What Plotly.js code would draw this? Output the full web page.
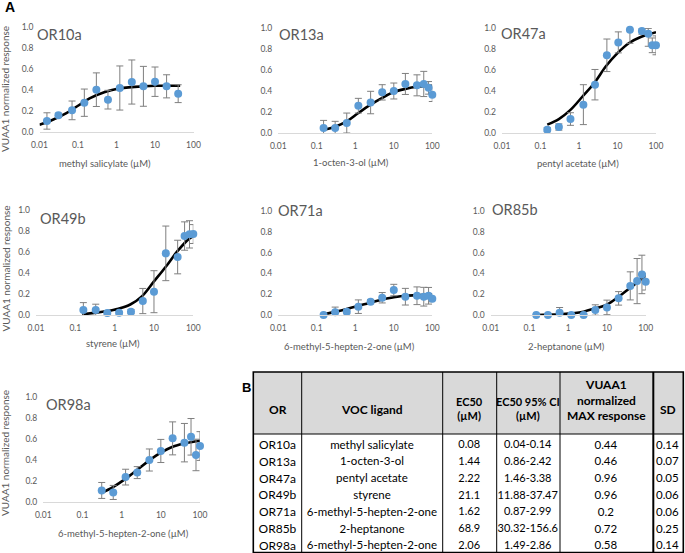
<!DOCTYPE html>
<html><head><meta charset="utf-8">
<script src="https://cdn.plot.ly/plotly-3.0.1.min.js"></script>
<style>html,body{margin:0;padding:0;background:#fff}#chart{width:685px;height:553px}</style>
</head><body><div id="chart"></div>
<script>
// ---------- DATA ----------
const receptors = ['OR10a','OR13a','OR47a','OR49b','OR71a','OR85b','OR98a'];
const ligandTitles = ['methyl salicylate (µM)','1-octen-3-ol (µM)','pentyl acetate (µM)','styrene (µM)','6-methyl-5-hepten-2-one (µM)','2-heptanone (µM)','6-methyl-5-hepten-2-one (µM)'];
const yAxisTitle = 'VUAA1 normalized response';
const xTickVals = [0.01, 0.1, 1, 10, 100];
const xTickText = ['0.01', '0.1', '1', '10', '100'];
const yTickVals = [0, 0.2, 0.4, 0.6, 0.8, 1.0];
const yTickText = ['0.0', '0.2', '0.4', '0.6', '0.8', '1.0'];

const conc_OR10a = [0.0156, 0.031, 0.07, 0.146, 0.3, 0.6, 1.22, 2.5, 5, 10, 20, 40];
const resp_OR10a = [0.105, 0.159, 0.206, 0.279, 0.403, 0.308, 0.419, 0.476, 0.435, 0.479, 0.435, 0.365];
const sd_OR10a   = [0.078, 0.02, 0.089, 0.13, 0.16, 0.089, 0.21, 0.21, 0.19, 0.14, 0.11, 0.085];
const fitX_OR10a = [0.01, 0.02, 0.05, 0.1, 0.2, 0.5, 1, 3, 10, 25, 45];
const fitY_OR10a = [0.07, 0.11, 0.18, 0.25, 0.32, 0.38, 0.41, 0.43, 0.44, 0.44, 0.44];

const conc_OR13a = [0.15, 0.3, 0.6, 1.2, 2.5, 5, 10, 20, 40, 60, 80, 100];
const resp_OR13a = [0.048, 0.048, 0.095, 0.26, 0.29, 0.387, 0.40, 0.467, 0.454, 0.467, 0.43, 0.365];
const sd_OR13a   = [0.072, 0.063, 0.095, 0.07, 0.107, 0.073, 0.076, 0.1, 0.1, 0.12, 0.06, 0.065];
const fitX_OR13a = [0.15, 0.3, 0.6, 1.2, 2.5, 5, 10, 20, 40, 100];
const fitY_OR13a = [0.03, 0.06, 0.11, 0.19, 0.27, 0.335, 0.39, 0.42, 0.44, 0.45];

const conc_OR47a = [0.15, 0.3, 0.6, 1.3, 2.6, 5.3, 10.5, 21, 43, 63, 80, 100];
const resp_OR47a = [0.032, 0.057, 0.133, 0.27, 0.46, 0.74, 0.863, 0.984, 0.971, 0.946, 0.835, 0.835];
const sdUp_OR47a   = [0.02, 0.03, 0.06, 0.19, 0.145, 0.155, 0.1, 0.0, 0.02, 0.05, 0.07, 0.09];
const sdDown_OR47a = [0.02, 0.03, 0.06, 0.19, 0.145, 0.155, 0.1, 0.13, 0.03, 0.12, 0.07, 0.09];
const fitX_OR47a = [0.15, 0.3, 0.6, 1.25, 2.5, 5, 10, 20, 40, 100];
const fitY_OR47a = [0.08, 0.133, 0.22, 0.35, 0.476, 0.635, 0.76, 0.857, 0.914, 0.96];

const conc_OR49b = [0.16, 0.33, 0.65, 1.3, 2.6, 5.2, 10, 20, 40, 60, 80, 100];
const resp_OR49b = [0.048, 0.048, 0.019, 0.022, 0.032, 0.133, 0.222, 0.587, 0.552, 0.752, 0.768, 0.771];
const sd_OR49b   = [0.07, 0.055, 0.01, 0.01, 0.02, 0.12, 0.2, 0.26, 0.16, 0.135, 0.13, 0.09];
const fitX_OR49b = [0.15, 0.3, 0.6, 1.25, 2.5, 5, 10, 20, 40, 80, 100];
const fitY_OR49b = [0.006, 0.02, 0.035, 0.06, 0.1, 0.18, 0.32, 0.46, 0.61, 0.73, 0.75];

const conc_OR71a = [0.15, 0.3, 0.6, 1.2, 2.5, 5, 10, 20, 40, 60, 80, 100];
const resp_OR71a = [0.0, 0.026, 0.032, 0.08, 0.128, 0.166, 0.24, 0.176, 0.185, 0.176, 0.185, 0.157];
const sd_OR71a   = [0.0, 0.05, 0.02, 0.065, 0.02, 0.05, 0.055, 0.08, 0.085, 0.09, 0.08, 0.03];
const fitX_OR71a = [0.15, 0.3, 0.6, 1.25, 2.5, 5, 10, 20, 40, 100];
const fitY_OR71a = [0.006, 0.03, 0.058, 0.09, 0.118, 0.15, 0.17, 0.185, 0.19, 0.198];

const conc_OR85b = [0.15, 0.3, 0.6, 1.2, 2.5, 5, 10, 20, 40, 60, 80, 100];
const resp_OR85b = [0, 0, 0.022, 0, 0, 0.048, 0.073, 0.16, 0.28, 0.326, 0.39, 0.32];
const sd_OR85b   = [0, 0, 0.05, 0, 0, 0.05, 0.07, 0.065, 0.135, 0.217, 0.185, 0.08];
const fitX_OR85b = [0.15, 0.6, 1.25, 2.5, 5, 10, 20, 40, 80, 100];
const fitY_OR85b = [0, 0.006, 0.016, 0.032, 0.064, 0.1, 0.176, 0.262, 0.35, 0.383];

const conc_OR98a = [0.31, 0.61, 1.26, 2.5, 5.1, 10, 20, 40, 59, 79, 100];
const resp_OR98a = [0.11, 0.091, 0.237, 0.28, 0.40, 0.486, 0.606, 0.565, 0.621, 0.448, 0.533];
const sd_OR98a   = [0.076, 0.067, 0.075, 0.057, 0.105, 0.11, 0.157, 0.183, 0.174, 0.15, 0.137];
const fitX_OR98a = [0.3, 0.6, 1.25, 2.5, 5, 10, 20, 40, 100];
const fitY_OR98a = [0.085, 0.142, 0.22, 0.306, 0.394, 0.47, 0.527, 0.558, 0.584];

// table
const tableHeader = ['OR', 'VOC ligand', 'EC50<br>(µM)', 'EC50 95% CI<br>(µM)', 'VUAA1<br>normalized<br>MAX response', 'SD'];
const tableOR = ['OR10a','OR13a','OR47a','OR49b','OR71a','OR85b','OR98a'];
const tableLigand = ['methyl salicylate','1-octen-3-ol','pentyl acetate','styrene','6-methyl-5-hepten-2-one','2-heptanone','6-methyl-5-hepten-2-one'];
const tableEC50 = ['0.08','1.44','2.22','21.1','1.62','68.9','2.06'];
const tableCI = ['0.04-0.14','0.86-2.42','1.46-3.38','11.88-37.47','0.87-2.99','30.32-156.6','1.49-2.86'];
const tableMax = ['0.44','0.46','0.96','0.96','0.2','0.72','0.58'];
const tableSD = ['0.14','0.07','0.05','0.06','0.06','0.25','0.14'];

// ---------- LAYOUT (pixel geometry) ----------
const W = 685, H = 553;
const FONT = 'Lato, "Open Sans", sans-serif';
const GRAY = '#595959';
const series = [
  {conc: conc_OR10a, resp: resp_OR10a, up: sd_OR10a, down: sd_OR10a, fx: fitX_OR10a, fy: fitY_OR10a},
  {conc: conc_OR13a, resp: resp_OR13a, up: sd_OR13a, down: sd_OR13a, fx: fitX_OR13a, fy: fitY_OR13a},
  {conc: conc_OR47a, resp: resp_OR47a, up: sdUp_OR47a, down: sdDown_OR47a, fx: fitX_OR47a, fy: fitY_OR47a},
  {conc: conc_OR49b, resp: resp_OR49b, up: sd_OR49b, down: sd_OR49b, fx: fitX_OR49b, fy: fitY_OR49b},
  {conc: conc_OR71a, resp: resp_OR71a, up: sd_OR71a, down: sd_OR71a, fx: fitX_OR71a, fy: fitY_OR71a},
  {conc: conc_OR85b, resp: resp_OR85b, up: sd_OR85b, down: sd_OR85b, fx: fitX_OR85b, fy: fitY_OR85b},
  {conc: conc_OR98a, resp: resp_OR98a, up: sd_OR98a, down: sd_OR98a, fx: fitX_OR98a, fy: fitY_OR98a}
];
const panels = [
  {x0: 39.5, x1: 193.5, yb: 132, yt: 27, tt: [35, 34.5], xt: [105, 163], yl: [5, 89]},
  {x0: 278.3, x1: 432.3, yb: 133, yt: 28, tt: [276.7, 34.7], xt: [351, 162.3]},
  {x0: 502, x1: 656, yb: 133, yt: 28, tt: [499.3, 34], xt: [578.3, 163]},
  {x0: 36, x1: 193.3, yb: 315, yt: 210, tt: [37.7, 219], xt: [113.3, 343.3], yl: [5, 268.5]},
  {x0: 278.3, x1: 432.3, yb: 315, yt: 211, tt: [276, 210], xt: [349, 346.7]},
  {x0: 490.7, x1: 645.7, yb: 315, yt: 211, tt: [490, 209], xt: [566.7, 346.7]},
  {x0: 43.3, x1: 200, yb: 502, yt: 397, tt: [44.3, 404.7], xt: [123.3, 533.3], yl: [5, 453]}
];
const px = v => v / W, py = v => 1 - v / H;

const traces = [];
const layout = {
  width: W, height: H, margin: {l: 0, r: 0, t: 0, b: 0},
  paper_bgcolor: '#fff', plot_bgcolor: 'rgba(0,0,0,0)',
  showlegend: false, font: {family: FONT, color: GRAY},
  annotations: [], shapes: []
};

panels.forEach((p, i) => {
  const s = i === 0 ? '' : String(i + 1);
  const d = series[i];
  traces.push({
    type: 'scatter', mode: 'lines', x: d.fx, y: d.fy,
    xaxis: 'x' + s, yaxis: 'y' + s, hoverinfo: 'skip',
    line: {color: '#000', width: 2.6, shape: 'spline', smoothing: 1}
  });
  traces.push({
    type: 'scatter', mode: 'markers', x: d.conc, y: d.resp,
    xaxis: 'x' + s, yaxis: 'y' + s, cliponaxis: false, hoverinfo: 'skip',
    marker: {color: '#5b9bd5', size: 8},
    error_y: {type: 'data', symmetric: false, array: d.up, arrayminus: d.down, visible: true,
              color: '#7f7f7f', thickness: 1, width: 3.5}
  });
  layout['xaxis' + s] = {
    domain: [px(p.x0), px(p.x1)], anchor: 'y' + s, type: 'log', range: [-2, 2],
    tickmode: 'array', tickvals: xTickVals, ticktext: xTickText,
    showline: true, linecolor: '#d9d9d9', linewidth: 1, showgrid: false, zeroline: false,
    ticks: '', ticklabelstandoff: 5, tickfont: {family: FONT, size: 8.5, color: GRAY}, fixedrange: true
  };
  layout['yaxis' + s] = {
    domain: [py(p.yb), py(p.yt)], anchor: 'x' + s, range: [0, 1],
    tickmode: 'array', tickvals: yTickVals, ticktext: yTickText,
    showline: false, showgrid: false, zeroline: false,
    ticks: '', ticklabelstandoff: 5, tickfont: {family: FONT, size: 8.5, color: GRAY}, fixedrange: true
  };
  layout.annotations.push({
    text: receptors[i], xref: 'paper', yref: 'paper', x: px(p.tt[0]), y: py(p.tt[1]),
    xanchor: 'left', yanchor: 'middle', showarrow: false,
    font: {family: FONT, size: 14.5, color: GRAY}
  });
  layout.annotations.push({
    text: ligandTitles[i], xref: 'paper', yref: 'paper', x: px(p.xt[0]), y: py(p.xt[1]),
    xanchor: 'center', yanchor: 'middle', showarrow: false,
    font: {family: FONT, size: 9.5, color: GRAY}
  });
  if (p.yl) {
    layout.annotations.push({
      text: yAxisTitle, xref: 'paper', yref: 'paper', x: px(p.yl[0]), y: py(p.yl[1]),
      xanchor: 'center', yanchor: 'middle', textangle: -90, showarrow: false,
      font: {family: FONT, size: 10, color: GRAY}
    });
  }
});

layout.annotations.push({text: '<b>A</b>', xref: 'paper', yref: 'paper', x: px(3), y: py(7.5),
  xanchor: 'left', yanchor: 'middle', showarrow: false, font: {family: 'Liberation Sans, Arial', size: 14, color: '#000'}});
layout.annotations.push({text: '<b>B</b>', xref: 'paper', yref: 'paper', x: px(239.5), y: py(388),
  xanchor: 'left', yanchor: 'middle', showarrow: false, font: {family: 'Liberation Sans, Arial', size: 13, color: '#000'}});

// table
const tb = {x0: 253.3, x1: 683.3, y0: 372, y1: 552.5, hh: 60, hline: 62, rh: 16.8};
const colW = [48.4, 141, 54, 63.3, 93.3, 30];
const headerTextY = [409, 409, 408.5, 408.5, 399.5, 409];
const headerSize = [12, 12, 11, 11, 12, 12];
const bodySize = [12, 11.5, 11, 11, 11.5, 11.5];
const blankHeader = tableHeader.map(() => '');
traces.push({
  type: 'table',
  domain: {x: [px(tb.x0), px(tb.x1)], y: [0, py(tb.y0)]},
  columnwidth: colW,
  header: {values: blankHeader, align: 'center', height: tb.hh,
           fill: {color: '#d9d9d9'}, line: {width: 0, color: 'rgba(0,0,0,0)'},
           font: {family: FONT, size: 11, color: '#000'}},
  cells: {values: [tableOR, tableLigand, tableEC50, tableCI, tableMax, tableSD], align: 'center', height: tb.rh,
          fill: {color: 'rgba(0,0,0,0)'}, line: {width: 0, color: 'rgba(0,0,0,0)'},
          font: {family: FONT, size: bodySize, color: '#000'}}
});
// header background strip continues to the header rule; labels centred multi-line; borders
const totalW = colW.reduce((a, b) => a + b, 0);
const colX = [tb.x0];
colW.forEach(cw => colX.push(colX[colX.length - 1] + cw / totalW * (tb.x1 - tb.x0)));
layout.shapes.push({type: 'rect', xref: 'paper', yref: 'paper', layer: 'below',
  x0: px(tb.x0), x1: px(tb.x1), y0: py(tb.y0 + tb.hline), y1: py(tb.y0),
  fillcolor: '#d9d9d9', line: {width: 0}});
tableHeader.forEach((h, k) => {
  layout.annotations.push({text: '<b>' + h + '</b>', xref: 'paper', yref: 'paper',
    x: px((colX[k] + colX[k + 1]) / 2), y: py(headerTextY[k]), xanchor: 'center', yanchor: 'middle',
    align: 'center', showarrow: false, font: {family: FONT, size: headerSize[k], color: '#000'}});
});
const lineShape = (x0, y0, x1, y1, w) => ({type: 'line', xref: 'paper', yref: 'paper',
  x0: px(x0), x1: px(x1), y0: py(y0), y1: py(y1), line: {color: '#000', width: w}});
colX.slice(1, -1).forEach((xx, k) => {
  layout.shapes.push(lineShape(xx, tb.y0, xx, tb.y1, k === colW.length - 2 ? 2 : 1));
});
layout.shapes.push(lineShape(tb.x0, tb.y0 + tb.hline, tb.x1, tb.y0 + tb.hline, 1));
layout.shapes.push({type: 'rect', xref: 'paper', yref: 'paper', x0: px(tb.x0), x1: px(tb.x1),
  y0: py(tb.y1), y1: py(tb.y0), line: {color: '#000', width: 1.6}});

Plotly.newPlot('chart', traces, layout, {displayModeBar: false, staticPlot: true});
</script>
</body></html>
